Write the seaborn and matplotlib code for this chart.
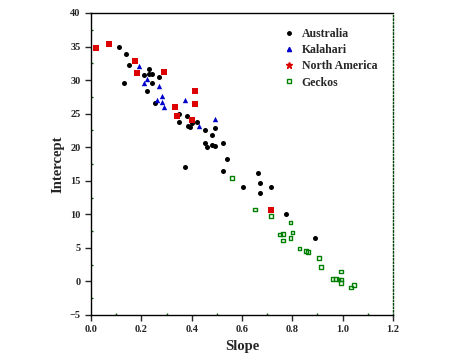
import pandas as pd
import seaborn as sns
import matplotlib.pyplot as plt
from matplotlib.lines import Line2D
from matplotlib.ticker import MultipleLocator

# Data
aus_slope = [0.113, 0.141, 0.151, 0.131, 0.230, 0.229, 0.244, 0.211, 0.271, 0.242,
             0.222, 0.253, 0.351, 0.383, 0.351, 0.384, 0.393, 0.401, 0.420, 0.452,
             0.491, 0.481, 0.452, 0.462, 0.481, 0.491, 0.523, 0.540, 0.373, 0.523,
             0.663, 0.671, 0.671, 0.603, 0.714, 0.775, 0.891]
aus_int = [34.9, 33.9, 32.3, 29.6, 31.7, 30.9, 30.9, 30.7, 30.4, 29.5,
           28.4, 26.6, 24.9, 24.7, 23.7, 23.2, 23.0, 23.6, 23.7, 22.6,
           22.9, 21.8, 20.7, 20.0, 20.4, 20.2, 20.6, 18.2, 17.0, 16.5,
           16.1, 14.7, 13.2, 14.1, 14.1, 10.1, 6.5]

kal_slope = [0.192, 0.221, 0.209, 0.271, 0.282, 0.262, 0.282, 0.290, 0.373, 0.430, 0.491]
kal_int = [32.1, 30.1, 29.6, 29.1, 27.6, 27.1, 26.7, 26.0, 27.1, 23.2, 24.2]

na_slope = [0.019, 0.072, 0.175, 0.183, 0.290, 0.413, 0.413, 0.334, 0.342, 0.401, 0.715]
na_int = [34.8, 35.4, 32.9, 31.0, 31.2, 28.4, 26.5, 26.0, 24.7, 24.1, 10.7]

geck_slope = [0.560, 0.653, 0.714, 0.793, 0.801, 0.750, 0.763, 0.793, 0.763, 0.829,
              0.854, 0.862, 0.905, 0.913, 0.993, 0.960, 0.973, 0.984, 0.993, 0.993,
              1.045, 1.033]
geck_int = [15.4, 10.7, 9.8, 8.8, 7.3, 7.0, 7.1, 6.5, 6.1, 4.9,
            4.5, 4.4, 3.5, 2.2, 1.5, 0.4, 0.4, 0.3, 0.3, -0.2,
            -0.5, -0.9]

groups = ["Australia", "Kalahari", "North America", "Geckos"]
colors = {"Australia": "black", "Kalahari": "#0000cc",
          "North America": "#dd0000", "Geckos": "#008000"}

df = pd.concat([
    pd.DataFrame({"Slope": aus_slope, "Intercept": aus_int, "group": "Australia"}),
    pd.DataFrame({"Slope": kal_slope, "Intercept": kal_int, "group": "Kalahari"}),
    pd.DataFrame({"Slope": na_slope, "Intercept": na_int, "group": "North America"}),
    pd.DataFrame({"Slope": geck_slope, "Intercept": geck_int, "group": "Geckos"}),
], ignore_index=True)

sns.set_style("ticks")
plt.rcParams["font.family"] = ["Liberation Serif", "DejaVu Serif"]

fig = plt.figure(figsize=(4.56, 3.6), dpi=100)
ax = fig.add_axes([0.1996, 0.125, 0.6622, 0.8389])

sns.scatterplot(data=df[df.group == "Australia"], x="Slope", y="Intercept",
                color="black", marker="o", s=13, linewidth=0, ax=ax, legend=False)
sns.scatterplot(data=df[df.group == "Kalahari"], x="Slope", y="Intercept",
                color=colors["Kalahari"], marker="^", s=15, linewidth=0, ax=ax, legend=False)
sns.scatterplot(data=df[df.group == "North America"], x="Slope", y="Intercept",
                color=colors["North America"], marker="s", s=15, linewidth=0, ax=ax, legend=False)
sns.scatterplot(data=df[df.group == "Geckos"], x="Slope", y="Intercept",
                facecolor="none", edgecolor=colors["Geckos"], marker="s", s=7,
                linewidth=1.0, ax=ax, legend=False)

ax.set_xlim(0, 1.2)
ax.set_ylim(-5, 40)
ax.xaxis.set_major_locator(MultipleLocator(0.2))
ax.xaxis.set_minor_locator(MultipleLocator(0.1))
ax.yaxis.set_major_locator(MultipleLocator(5))
ax.yaxis.set_minor_locator(MultipleLocator(2.5))
ax.set_xticklabels([f"{v:.1f}" for v in ax.get_xticks()])
ax.tick_params(which="major", direction="out", length=4, width=1, labelsize=7.5)
ax.tick_params(which="minor", direction="in", length=1.5, width=1, color="#006000")
for lbl in ax.get_xticklabels() + ax.get_yticklabels():
    lbl.set_fontweight("bold")

for side in ["left", "bottom", "top"]:
    ax.spines[side].set_linewidth(1)
    ax.spines[side].set_color("black")
ax.spines["right"].set_visible(True)
ax.spines["right"].set_linestyle((0, (1, 1.5)))
ax.spines["right"].set_color("#004000")
ax.spines["right"].set_linewidth(1)

ax.set_xlabel("Slope", fontsize=10.5, fontweight="bold")
ax.set_ylabel("Intercept", fontsize=10.5, fontweight="bold")

handles = [
    Line2D([], [], linestyle="", marker="o", markersize=2.5, color="black"),
    Line2D([], [], linestyle="", marker="^", markersize=3, color=colors["Kalahari"]),
    Line2D([], [], linestyle="", marker="*", markersize=4.5, color=colors["North America"]),
    Line2D([], [], linestyle="", marker="s", markersize=2.5, markerfacecolor="none",
           markeredgecolor=colors["Geckos"]),
]
ax.legend(handles, groups, loc="upper left", bbox_to_anchor=(0.6, 0.985),
          frameon=False, prop={"size": 8.5, "weight": "bold"},
          handletextpad=0.6, labelspacing=0.35, handlelength=1.0)

fig.savefig("out.png", dpi=100)
